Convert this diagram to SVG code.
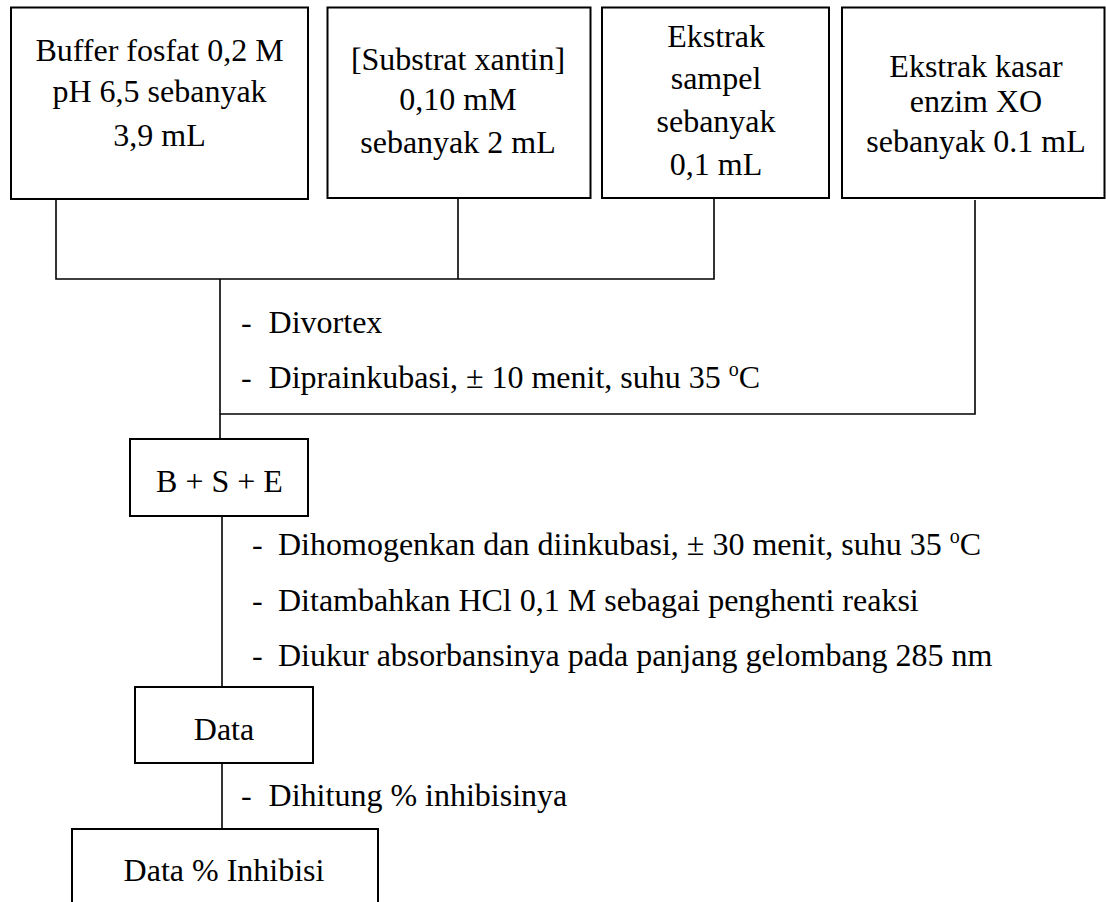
<svg xmlns="http://www.w3.org/2000/svg" width="1106" height="902" viewBox="0 0 1106 902">
<style>
text{font-family:"Liberation Serif","Times New Roman",serif;font-size:32px;fill:#000}
.c{text-anchor:middle}
.box{fill:#fff;stroke:#000;stroke-width:2}
.ln{fill:none;stroke:#000;stroke-width:1.6}
.sup{font-size:20px}
</style>
<rect width="1106" height="902" fill="#fff"/>
<g id="connectors">
<path class="ln" d="M56,199 V279 H714 V198"/>
<path class="ln" d="M458,198 V279"/>
<path class="ln" d="M220,279 V439"/>
<path class="ln" d="M975,200 V414 H220"/>
<path class="ln" d="M222,516 V687"/>
<path class="ln" d="M222,763 V829"/>
</g>
<g id="labels">
<text><tspan x="241" y="333">-</tspan><tspan x="268.6" y="333">Divortex</tspan></text>
<text><tspan x="241" y="388">-</tspan><tspan x="268.6" y="388">Diprainkubasi, ± 10 menit, suhu 35 <tspan class="sup" dy="-12">o</tspan><tspan dy="12">C</tspan></tspan></text>
<text><tspan x="252" y="555">-</tspan><tspan x="278" y="555">Dihomogenkan dan diinkubasi, ± 30 menit, suhu 35 <tspan class="sup" dy="-12">o</tspan><tspan dy="12">C</tspan></tspan></text>
<text><tspan x="252" y="611">-</tspan><tspan x="278" y="611">Ditambahkan HCl 0,1 M sebagai penghenti reaksi</tspan></text>
<text><tspan x="252" y="666">-</tspan><tspan x="278" y="666">Diukur absorbansinya pada panjang gelombang 285 nm</tspan></text>
<text><tspan x="241" y="806">-</tspan><tspan x="268.6" y="806">Dihitung % inhibisinya</tspan></text>
</g>
<g id="buffer">
<rect class="box" x="11" y="7.5" width="297" height="191.5"/>
<text class="c" x="159.5" y="61">Buffer fosfat 0,2 M</text>
<text class="c" x="159.5" y="102">pH 6,5 sebanyak</text>
<text class="c" x="159.5" y="146">3,9 mL</text>
</g>
<g id="substrat">
<rect class="box" x="327.5" y="7.5" width="263" height="190.5"/>
<text class="c" x="458" y="70">[Substrat xantin]</text>
<text class="c" x="458" y="110">0,10 mM</text>
<text class="c" x="458" y="153">sebanyak 2 mL</text>
</g>
<g id="sampel">
<rect class="box" x="602" y="7.5" width="227" height="190.5"/>
<text class="c" x="716" y="47">Ekstrak</text>
<text class="c" x="716" y="89">sampel</text>
<text class="c" x="716" y="132">sebanyak</text>
<text class="c" x="716" y="175">0,1 mL</text>
</g>
<g id="enzim">
<rect class="box" x="842" y="7.5" width="262.5" height="190.5"/>
<text class="c" x="976" y="77">Ekstrak kasar</text>
<text class="c" x="976" y="112">enzim XO</text>
<text class="c" x="976" y="152">sebanyak 0.1 mL</text>
</g>
<g id="bse">
<rect class="box" x="130" y="439" width="178" height="77"/>
<text class="c" x="219.5" y="492">B + S + E</text>
</g>
<g id="data">
<rect class="box" x="135" y="687" width="178" height="76"/>
<text class="c" x="224" y="740">Data</text>
</g>
<g id="inhibisi">
<rect class="box" x="72" y="829" width="306" height="100"/>
<text class="c" x="224" y="881">Data % Inhibisi</text>
</g>
</svg>
